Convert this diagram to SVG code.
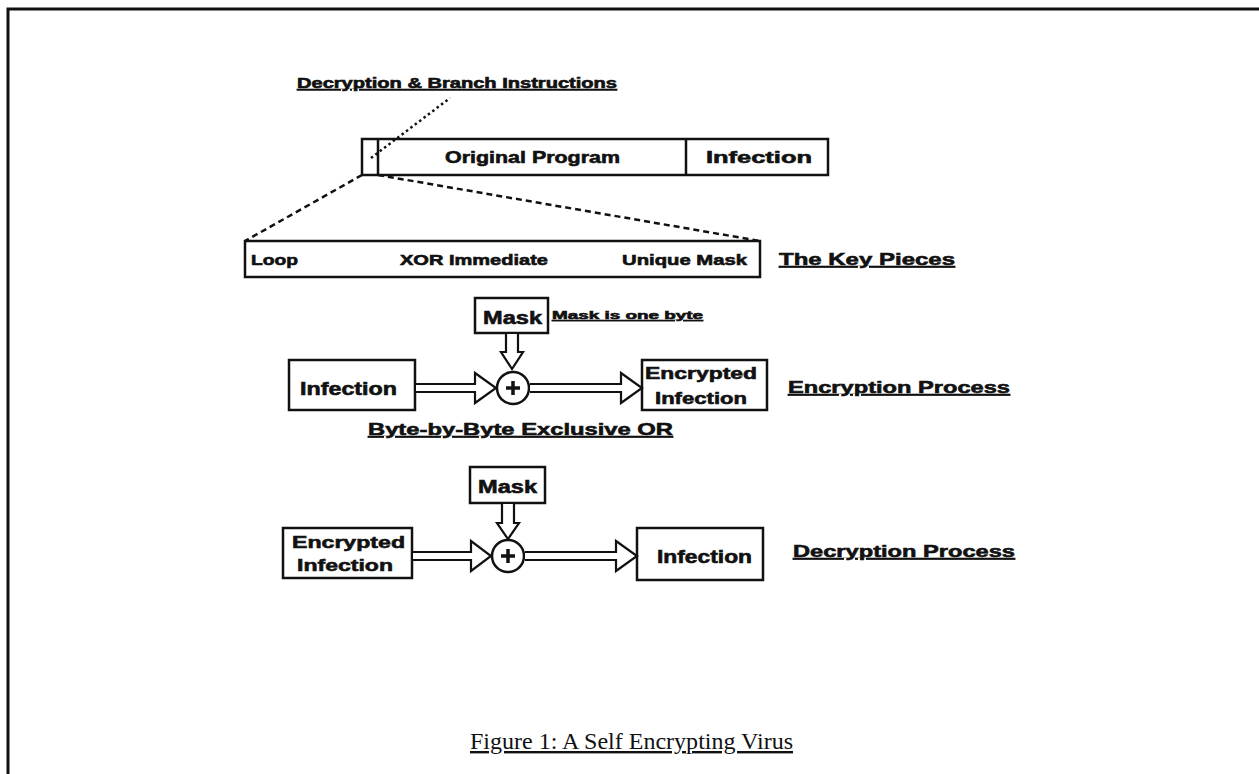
<svg xmlns="http://www.w3.org/2000/svg" width="1259" height="774" viewBox="0 0 1259 774">
<style>
.t{font-family:"Liberation Sans","Arial",sans-serif;font-weight:bold;fill:#111;stroke:#111;stroke-width:0.6;}
.u{text-decoration:underline;}
.box{fill:#fff;stroke:#111;stroke-width:2.5;}
.arr{fill:#fff;stroke:#111;stroke-width:2.2;stroke-linejoin:miter;}
.dash{fill:none;stroke:#111;stroke-width:2.5;stroke-dasharray:6 4;}
.dot{fill:none;stroke:#111;stroke-width:2.5;stroke-dasharray:2.5 3;}
.cap{font-family:"Liberation Serif","Times New Roman",serif;fill:#111;}
</style>
<rect width="1259" height="774" fill="#fff"/>
<path d="M8,774 V9 H1259" fill="none" stroke="#111" stroke-width="3"/>

<g id="label-decryption-branch">
  <text class="t u" x="297" y="88" font-size="14" textLength="320" lengthAdjust="spacingAndGlyphs">Decryption &amp; Branch Instructions</text>
</g>

<g id="program-bar">
  <rect class="box" x="362" y="139" width="466" height="36"/>
  <line x1="378" y1="139" x2="378" y2="175" stroke="#111" stroke-width="2.5"/>
  <line x1="686" y1="139" x2="686" y2="175" stroke="#111" stroke-width="2.5"/>
  <text class="t" x="445" y="163" font-size="17" textLength="175" lengthAdjust="spacingAndGlyphs">Original Program</text>
  <text class="t" x="706" y="163" font-size="17" textLength="106" lengthAdjust="spacingAndGlyphs">Infection</text>
</g>

<g id="key-pieces">
  <rect class="box" x="245" y="241" width="515" height="36"/>
  <text class="t" x="251" y="265" font-size="15" textLength="47" lengthAdjust="spacingAndGlyphs">Loop</text>
  <text class="t" x="400" y="265" font-size="15" textLength="148" lengthAdjust="spacingAndGlyphs">XOR Immediate</text>
  <text class="t" x="622" y="265" font-size="15" textLength="125" lengthAdjust="spacingAndGlyphs">Unique Mask</text>
</g>
<g id="label-key-pieces">
  <text class="t u" x="779" y="265" font-size="17" textLength="176" lengthAdjust="spacingAndGlyphs">The Key Pieces</text>
</g>

<g id="mask-1">
  <rect class="box" x="475" y="298" width="73" height="35"/>
  <text class="t" x="483" y="324" font-size="18" textLength="59" lengthAdjust="spacingAndGlyphs">Mask</text>
</g>
<g id="label-mask-byte">
  <text class="t u" x="552" y="319" font-size="11" textLength="151" lengthAdjust="spacingAndGlyphs">Mask is one byte</text>
</g>
<g id="infection-1">
  <rect class="box" x="289" y="360" width="126" height="50"/>
  <text class="t" x="300" y="395" font-size="18" textLength="97" lengthAdjust="spacingAndGlyphs">Infection</text>
</g>
<g id="xor-1">
  <circle cx="513" cy="388" r="16" fill="#fff" stroke="#111" stroke-width="2.5"/>
  <path d="M513,381 V395 M506,388 H520" stroke="#111" stroke-width="3.5"/>
</g>
<g id="encrypted-1">
  <rect class="box" x="642" y="360" width="125" height="50"/>
  <text class="t" x="645" y="379" font-size="17" textLength="112" lengthAdjust="spacingAndGlyphs">Encrypted</text>
  <text class="t" x="655" y="404" font-size="17" textLength="92" lengthAdjust="spacingAndGlyphs">Infection</text>
</g>
<g id="label-encryption">
  <text class="t u" x="788" y="393" font-size="17" textLength="222" lengthAdjust="spacingAndGlyphs">Encryption Process</text>
</g>
<g id="label-xor">
  <text class="t u" x="368" y="435" font-size="17" textLength="305" lengthAdjust="spacingAndGlyphs">Byte-by-Byte Exclusive OR</text>
</g>

<g id="mask-2">
  <rect class="box" x="470" y="467" width="75" height="36"/>
  <text class="t" x="478" y="493" font-size="18" textLength="59" lengthAdjust="spacingAndGlyphs">Mask</text>
</g>
<g id="encrypted-2">
  <rect class="box" x="283" y="528" width="129" height="50"/>
  <text class="t" x="292" y="548" font-size="17" textLength="113" lengthAdjust="spacingAndGlyphs">Encrypted</text>
  <text class="t" x="297" y="571" font-size="17" textLength="96" lengthAdjust="spacingAndGlyphs">Infection</text>
</g>
<g id="xor-2">
  <circle cx="508" cy="556" r="16" fill="#fff" stroke="#111" stroke-width="2.5"/>
  <path d="M508,549 V563 M501,556 H515" stroke="#111" stroke-width="3.5"/>
</g>
<g id="infection-2">
  <rect class="box" x="637" y="528" width="126" height="52"/>
  <text class="t" x="657" y="563" font-size="18" textLength="95" lengthAdjust="spacingAndGlyphs">Infection</text>
</g>
<g id="label-decryption">
  <text class="t u" x="793" y="557" font-size="17" textLength="222" lengthAdjust="spacingAndGlyphs">Decryption Process</text>
</g>

<g id="connectors">
  <path class="dot" d="M371,158 L450,98"/>
  <path class="dash" d="M362,175 L245,241"/>
  <path class="dash" d="M378,175 L760,241"/>
  <path class="arr" d="M506,334 V352 H501 L512,369 L523,352 H518 V334"/>
  <path class="arr" d="M416,384 H475 V373 L496,388 L475,403 V392 H416"/>
  <path class="arr" d="M530,384 H621 V373 L642,388 L621,403 V392 H530"/>
  <path class="arr" d="M502,504 V523 H497 L508,539 L519,523 H514 V504"/>
  <path class="arr" d="M413,552 H471 V541 L491,556 L471,571 V560 H413"/>
  <path class="arr" d="M525,552 H616 V541 L637,556 L616,571 V560 H525"/>
</g>

<g id="caption">
  <text class="cap u" x="470" y="749" font-size="24" textLength="323" lengthAdjust="spacingAndGlyphs">Figure 1: A Self Encrypting Virus</text>
</g>
</svg>
